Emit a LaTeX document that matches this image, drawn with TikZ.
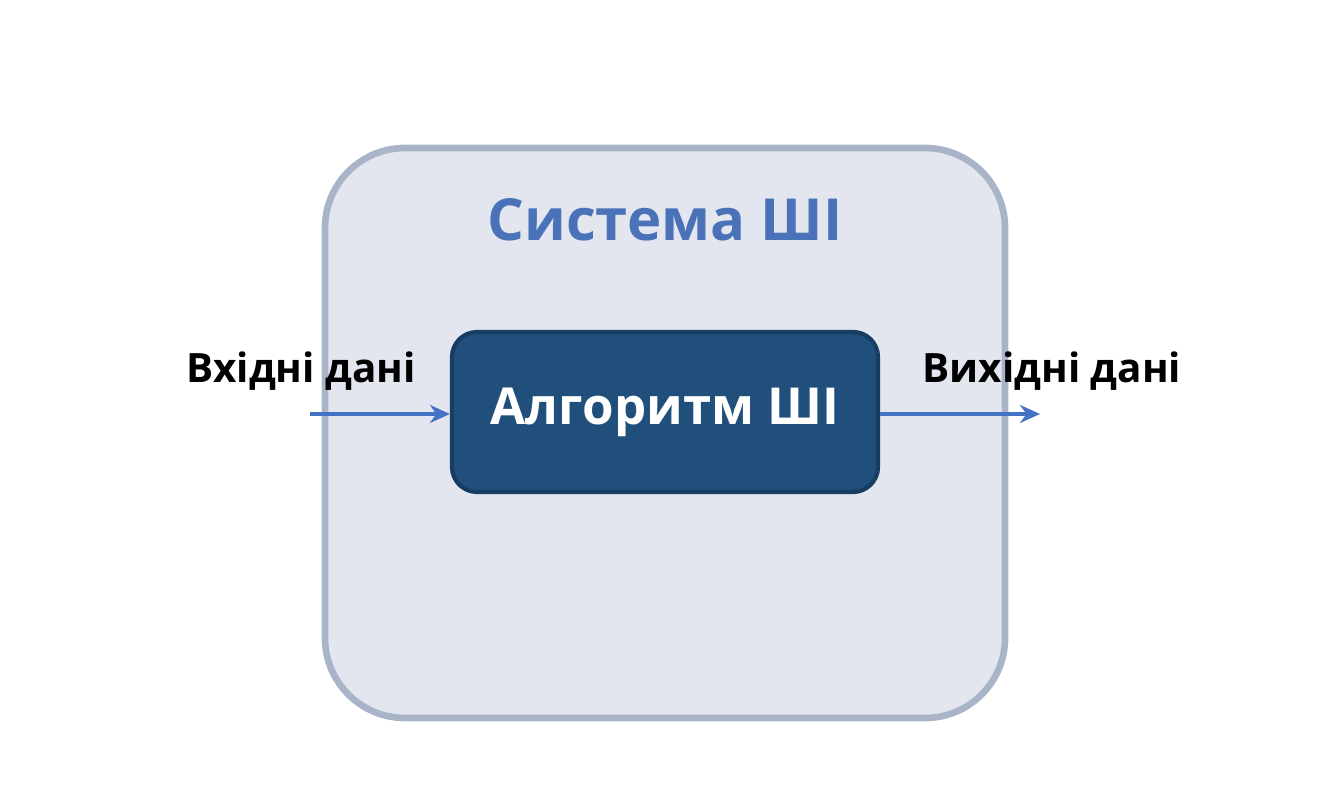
\documentclass[tikz,border=0pt]{standalone}
\usepackage{fontspec}
\setmainfont{Open Sans}
\usetikzlibrary{arrows.meta}
\definecolor{sysfill}{HTML}{E3E6EE}
\definecolor{sysline}{HTML}{A9B4C8}
\definecolor{sysblue}{HTML}{4A72B8}
\definecolor{algblue}{HTML}{214F7C}
\definecolor{algline}{HTML}{183D62}
\definecolor{flowblue}{HTML}{4472C4}

\begin{document}
\begin{tikzpicture}
\useasboundingbox (0,0) rectangle (13.4,8);

% System box
\node[draw=sysline, line width=1.9pt, fill=sysfill, rounded corners=0.8cm,
      minimum width=6.8cm, minimum height=5.7cm] (sys) at (6.65,3.67) {};
\node[text=sysblue] (systitle) at (6.65,5.8) {\fontsize{16.5}{20}\selectfont\bfseries Система ШІ};

% Algorithm box
\node[draw=algline, line width=1.2pt, fill=algblue, rounded corners=0.25cm,
      minimum width=4.26cm, minimum height=1.6cm, text=white] (alg) at (6.65,3.88)
      {\fontsize{14.5}{18}\selectfont\bfseries Алгоритм ШІ};

% Labels
\node (inlabel) at (3.01,4.29) {\fontsize{11.5}{14}\selectfont\bfseries Вхідні дані};
\node (outlabel) at (10.52,4.29) {\fontsize{11.5}{14}\selectfont\bfseries Вихідні дані};

% Arrows
\coordinate (instart) at (3.10,3.86);
\coordinate (outend) at (10.40,3.86);
\draw[flowblue, line width=1.2pt, -{Stealth[length=2mm, width=1.8mm]}] (instart) -- (alg.west |- instart);
\draw[flowblue, line width=1.2pt, -{Stealth[length=2mm, width=1.8mm]}] (alg.east |- outend) -- (outend);
\end{tikzpicture}
\end{document}
